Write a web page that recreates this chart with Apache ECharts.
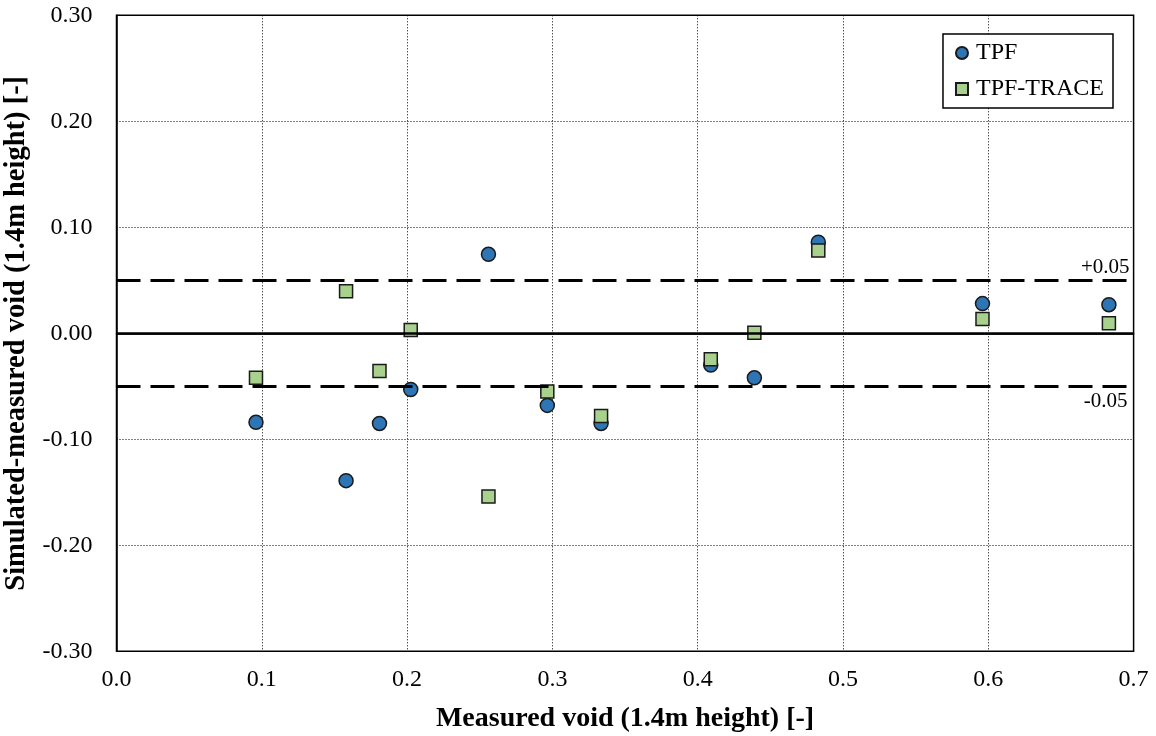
<!DOCTYPE html>
<html>
<head>
<meta charset="utf-8">
<script src="https://cdn.jsdelivr.net/npm/echarts@6/dist/echarts.min.js"></script>
<style>
  html, body { margin: 0; padding: 0; background: #fff; }
  #chart { width: 1156px; height: 736px; }
</style>
</head>
<body>
<div id="chart"></div>
<script>
// measured void (x) and simulated-measured void (y)
const measured = [0.096, 0.158, 0.181, 0.2025, 0.256, 0.2965, 0.3335, 0.409, 0.439, 0.483, 0.596, 0.683];
const tpf = [-0.084, -0.139, -0.085, -0.053, 0.0745, -0.068, -0.085, -0.030, -0.042, 0.086, 0.028, 0.027];
const tpfTrace = [-0.042, 0.0396, -0.0356, 0.003, -0.154, -0.055, -0.078, -0.0245, 0.0006, 0.078, 0.0135, 0.0094];
const bandLines = [0.05, -0.05];
const bandLabels = ["+0.05", "-0.05"];

const serif = "'Liberation Serif', 'Times New Roman', serif";
const chart = echarts.init(document.getElementById("chart"));

const pairs = (ys) => measured.map((x, i) => [x, ys[i]]);

chart.setOption({
  animation: false,
  textStyle: { fontFamily: serif, color: "#000" },
  grid: {
    left: 116.5, right: 22.4, top: 15.3, bottom: 84.7,
    outerBoundsMode: "none",
    containLabel: false,
    show: true, borderColor: "#000", borderWidth: 1.5, backgroundColor: "transparent"
  },
  legend: {
    orient: "vertical",
    right: 43, top: 34,
    backgroundColor: "#fff",
    borderColor: "#000",
    borderWidth: 1.5,
    borderRadius: 0,
    padding: [7, 9, 7, 12],
    itemGap: 12,
    itemWidth: 12,
    itemHeight: 12,
    textStyle: { fontFamily: serif, fontSize: 24, color: "#000", padding: [2, 0, 0, 3] },
    data: [
      { name: "TPF", icon: "circle" },
      { name: "TPF-TRACE", icon: "rect" }
    ]
  },
  xAxis: {
    type: "value",
    min: 0, max: 0.7, interval: 0.1,
    name: "Measured void (1.4m height) [-]",
    nameLocation: "middle",
    nameGap: 53,
    nameTextStyle: { fontFamily: serif, fontSize: 28, fontWeight: "bold", color: "#000" },
    axisLine: { show: true, lineStyle: { color: "#000", width: 1.5 } },
    axisTick: { show: false },
    axisLabel: { fontFamily: serif, fontSize: 24, color: "#000", margin: 16, formatter: (v) => v.toFixed(1) },
    splitLine: { show: true, lineStyle: { color: "#000", type: [1, 2], width: 1 } }
  },
  yAxis: {
    type: "value",
    min: -0.3, max: 0.3, interval: 0.1,
    name: "Simulated-measured void (1.4m height) [-]",
    nameLocation: "middle",
    nameGap: 78,
    nameTextStyle: { fontFamily: serif, fontSize: 28.5, fontWeight: "bold", color: "#000" },
    axisLine: { show: true, lineStyle: { color: "#000", width: 1.5 } },
    axisTick: { show: false },
    axisLabel: { fontFamily: serif, fontSize: 24, color: "#000", margin: 24, formatter: (v) => v.toFixed(2) },
    splitLine: { show: true, lineStyle: { color: "#000", type: [1, 2], width: 1 } }
  },
  series: [
    {
      name: "ref",
      type: "line",
      data: [],
      silent: true,
      markLine: {
        silent: true,
        symbol: "none",
        animation: false,
        data: [
          { yAxis: 0, lineStyle: { color: "#000", width: 2.5, type: "solid" }, label: { show: false } },
          {
            yAxis: bandLines[0],
            lineStyle: { color: "#000", width: 3, type: [24, 10] },
            label: { show: true, position: "insideEndTop", formatter: bandLabels[0], fontFamily: serif, fontSize: 21, color: "#000", distance: [4, 2] }
          },
          {
            yAxis: bandLines[1],
            lineStyle: { color: "#000", width: 3, type: [24, 10] },
            label: { show: true, position: "insideEndBottom", formatter: bandLabels[1], fontFamily: serif, fontSize: 21, color: "#000", distance: [6, 5] }
          }
        ]
      }
    },
    {
      name: "TPF",
      type: "scatter",
      symbol: "circle",
      symbolSize: 14,
      z: 3,
      itemStyle: { color: "#2E75B6", borderColor: "#1a1a1a", borderWidth: 1.5, opacity: 1 },
      data: pairs(tpf)
    },
    {
      name: "TPF-TRACE",
      type: "scatter",
      symbol: "rect",
      symbolSize: 13,
      z: 4,
      itemStyle: { color: "#A9D18E", borderColor: "#1a1a1a", borderWidth: 1.5, opacity: 1 },
      data: pairs(tpfTrace)
    }
  ]
});
</script>
</body>
</html>
